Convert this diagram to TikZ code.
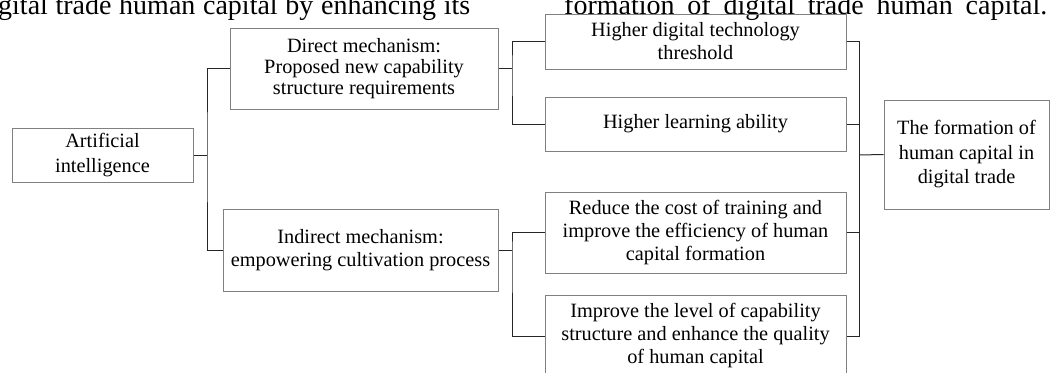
\documentclass[tikz,border=0pt]{standalone}
\usepackage{fontspec}
\setmainfont{Liberation Serif}
\usepackage{tikz}
\newcommand{\lbl}[1]{\fontsize{20.3}{#1}\selectfont}

\tikzset{
	box/.style={draw=black!50, line width=1pt, align=center, inner sep=0pt, font=\lbl{23}},
	link/.style={draw=black!85, line width=1pt},
	bodytext/.style={anchor=base west, inner sep=0pt, font=\fontsize{28}{32}\selectfont},
}

\begin{document}
\begin{tikzpicture}[x=1pt, y=-1pt]
		\useasboundingbox (0,0) rectangle (1051,372);
		\clip (0,0) rectangle (1051,372);
		% running text of the page above the figure
		\node[bodytext] (txtL) at (-2,14) {\makebox[472pt][s]{gital trade human capital by enhancing its}};
		\node[bodytext] (txtR) at (564,14) {\makebox[483pt][s]{formation of digital trade human capital.}};
		% boxes
		\node[box, minimum width=181pt, minimum height=54pt, font=\lbl{24.5}] (ai) at (102.5,155) {Artificial\\intelligence};
		\node[box, minimum width=268pt, minimum height=81pt, font=\lbl{21}] (direct) at (364,68.5) {Direct mechanism:\\Proposed new capability\\structure requirements};
		\node[box, minimum width=275pt, minimum height=82pt] (indirect) at (360.5,250) {Indirect mechanism:\\empowering cultivation process};
		\node[box, minimum width=301pt, minimum height=55pt] (thresh) at (695.5,41.5) {Higher digital technology\\threshold};
		\node[box, minimum width=301pt, minimum height=54pt] (learn) at (695.5,124) {Higher learning ability};
		\node[box, minimum width=301pt, minimum height=81pt] (cost) at (695.5,232.5) {Reduce the cost of training and\\improve the efficiency of human\\capital formation};
		\node[box, minimum width=301pt, minimum height=82pt] (level) at (695.5,336) {Improve the level of capability\\structure and enhance the quality\\of human capital};
		\node[box, minimum width=165pt, minimum height=109pt, font=\lbl{24.5}] (hc) at (966.5,154.5) {The formation of\\human capital in\\digital trade};
		% junctions of the tree lines
		\coordinate (j1) at (207,155);
		\coordinate (j2) at (512,68.5);
		\coordinate (j3) at (512,250);
		\coordinate (j4) at (859,155);
		% connectors
		\draw[link] (ai.east) -- (j1);
		\draw[link] (direct.west) -| (j1) |- (indirect.west);
		\draw[link] (direct.east) -- (j2);
		\draw[link] (thresh.west) -| (j2) |- (learn.west);
		\draw[link] (indirect.east) -- (j3);
		\draw[link] (cost.west) -| (j3) |- (level.west);
		\draw[link] (thresh.east) -| (j4) |- (level.east);
		\draw[link] (learn.east) -- (learn.east -| j4);
		\draw[link] (cost.east) -- (cost.east -| j4);
		\draw[link] (j4) -- (hc.west);
	\end{tikzpicture}
\end{document}
